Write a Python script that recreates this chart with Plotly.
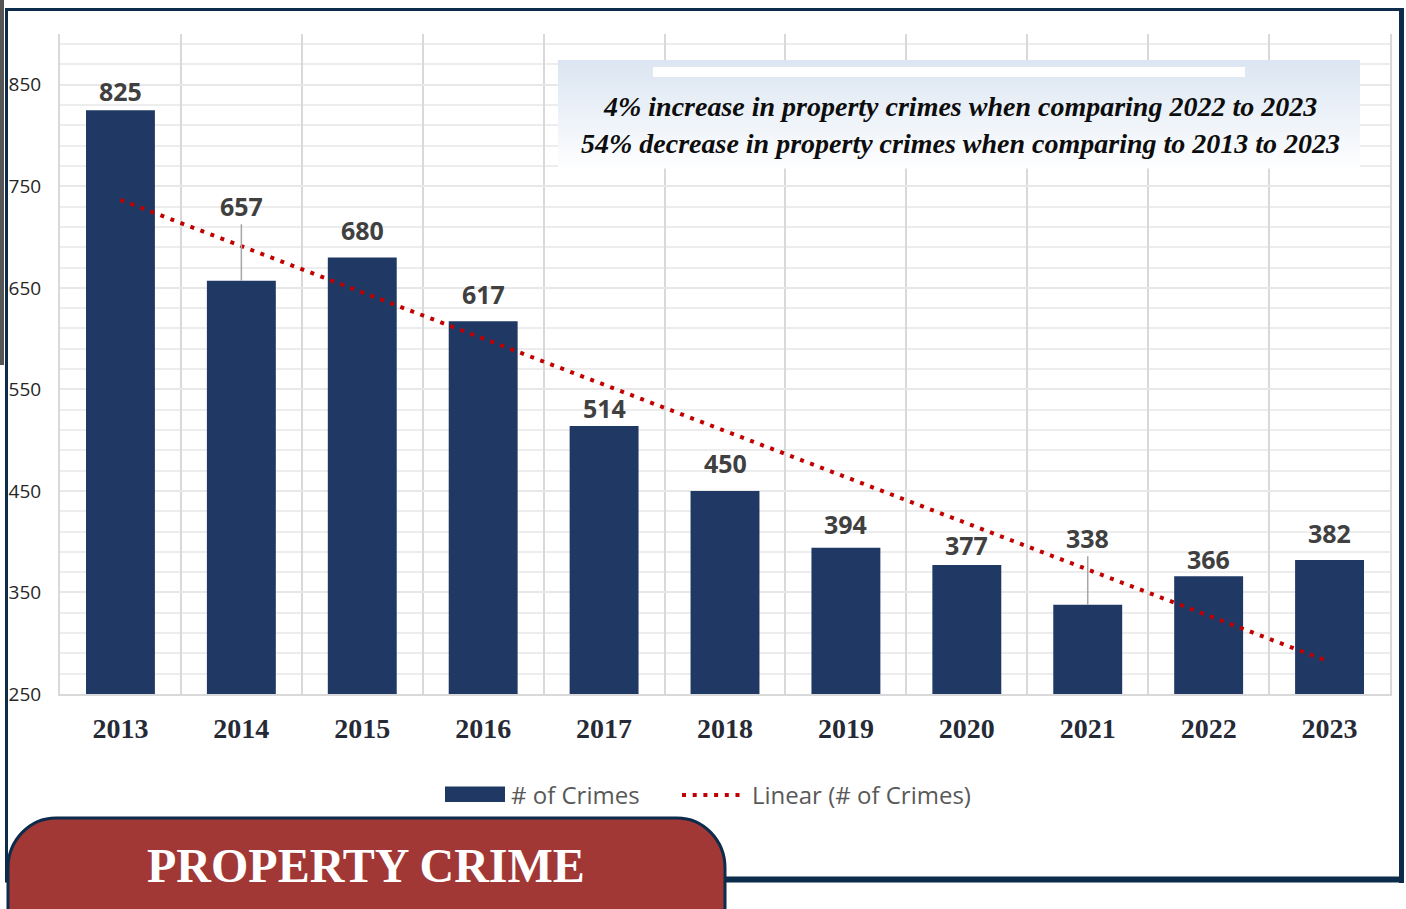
import numpy as np
import plotly.graph_objects as go

# ---------------- data ----------------
years = ["2013", "2014", "2015", "2016", "2017", "2018", "2019", "2020", "2021", "2022", "2023"]
crimes = [825, 657, 680, 617, 514, 450, 394, 377, 338, 366, 382]
y_ticks = [250, 350, 450, 550, 650, 750, 850]
note_lines = [
    "4% increase in property crimes when comparing 2022 to 2023",
    "54% decrease in property crimes when comparing to 2013 to 2023",
]
title_text = "PROPERTY CRIME"
legend_bar = "# of Crimes"
legend_trend = "Linear (# of Crimes)"

# label lift above bar top (px); leader line where flagged
label_lift = [19, 75, 27, 27, 18, 28, 24, 20, 67, 17, 27]
label_leader = [False, True, False, False, False, False, False, False, True, False, False]

# ---------------- style ----------------
W, H = 1406, 909
ML, MR, MT, MB = 60, 16, 34, 215
PW, PH = W - ML - MR, H - MT - MB
NAVY = "#203864"
FRAME = "#0d2b4b"
RED = "#c00000"
BANNER = "#a13835"


def px(x):
    return (x - ML) / PW


def py(y):
    return 1 - (y - MT) / PH


xi = np.arange(len(crimes))
coef = np.polyfit(xi, crimes, 1)
trend = np.polyval(coef, xi)

fig = go.Figure()
fig.add_trace(go.Bar(x=years, y=crimes, marker=dict(color=NAVY, line=dict(width=0)),
                     width=0.57, name=legend_bar, showlegend=False, hoverinfo="skip"))
fig.add_trace(go.Scatter(x=years, y=trend, mode="lines", name=legend_trend, showlegend=False,
                         line=dict(color=RED, width=4, dash="4px,6.7px"), hoverinfo="skip"))

annotations = []
for i, (v, lift, lead) in enumerate(zip(crimes, label_lift, label_leader)):
    common = dict(x=i, y=v, xref="x", yref="y", text=f"<b>{v}</b>", xanchor="center", yanchor="middle",
                  font=dict(family="Open Sans", size=25, color="#404040"))
    if lead:
        annotations.append(dict(showarrow=True, ax=0, ay=-lift, arrowhead=0, arrowwidth=1.5,
                                arrowcolor="#a6a6a6", standoff=0, **common))
    else:
        annotations.append(dict(showarrow=False, yshift=lift, **common))

shapes = []
# note box with vertical gradient
top, bot, x0, x1 = 60, 168, 558, 1360
n = 30
c_top = np.array([0xdc, 0xe6, 0xf2])
c_bot = np.array([0xfd, 0xfe, 0xff])
for i in range(n):
    t = i / (n - 1)
    c = (c_top * (1 - t) + c_bot * t).astype(int)
    ya = top + (bot - top) * i / n
    yb = top + (bot - top) * (i + 1) / n + 0.5
    shapes.append(dict(type="rect", xref="paper", yref="paper", x0=px(x0), x1=px(x1),
                       y0=py(ya), y1=py(yb), fillcolor=f"rgb({c[0]},{c[1]},{c[2]})",
                       line=dict(width=0), layer="above"))
shapes.append(dict(type="rect", xref="paper", yref="paper", x0=px(653), x1=px(1245),
                   y0=py(67), y1=py(77), fillcolor="white", line=dict(width=0), layer="above"))
for txt, yy in zip(note_lines, [106, 144]):
    annotations.append(dict(xref="paper", yref="paper", x=px(960), y=py(yy), xanchor="center", yanchor="middle",
                            text=f"<b><i>{txt}</i></b>", showarrow=False,
                            font=dict(family="Liberation Serif", size=28, color="#0d0d0d")))

# frame
shapes.append(dict(type="rect", xref="paper", yref="paper", x0=px(0), x1=px(4), y0=py(0), y1=py(365),
                   fillcolor="#555555", line=dict(width=0), layer="above"))
shapes.append(dict(type="line", xref="paper", yref="paper", x0=px(6.5), x1=px(6.5), y0=py(8), y1=py(882),
                   line=dict(color=FRAME, width=3), layer="above"))
shapes.append(dict(type="line", xref="paper", yref="paper", x0=px(5), x1=px(1404), y0=py(9.5), y1=py(9.5),
                   line=dict(color=FRAME, width=3), layer="above"))
shapes.append(dict(type="line", xref="paper", yref="paper", x0=px(1401.5), x1=px(1401.5), y0=py(8), y1=py(883),
                   line=dict(color=FRAME, width=5), layer="above"))
shapes.append(dict(type="line", xref="paper", yref="paper", x0=px(5), x1=px(1404), y0=py(879.5), y1=py(879.5),
                   line=dict(color=FRAME, width=6), layer="above"))

# legend
shapes.append(dict(type="rect", xref="paper", yref="paper", x0=px(445), x1=px(505), y0=py(786.5), y1=py(802),
                   fillcolor=NAVY, line=dict(width=0), layer="above"))
shapes.append(dict(type="line", xref="paper", yref="paper", x0=px(682), x1=px(746), y0=py(795), y1=py(795),
                   line=dict(color=RED, width=4, dash="4px,6.7px"), layer="above"))
annotations.append(dict(xref="paper", yref="paper", x=px(509), y=py(794), xanchor="left", yanchor="middle",
                        text=legend_bar, showarrow=False,
                        font=dict(family="Open Sans", size=24, color="#595959")))
annotations.append(dict(xref="paper", yref="paper", x=px(750), y=py(794), xanchor="left", yanchor="middle",
                        text=legend_trend, showarrow=False,
                        font=dict(family="Open Sans", size=24, color="#595959")))

# banner (pill shape)
bx0, bx1, by0, by1, rx, ry = 8, 725, 818, 960, 48, 50
k = 0.5523


def P(x, y):
    return f"{px(x):.5f},{py(y):.5f}"


path = (f"M {P(bx0 + rx, by0)} L {P(bx1 - rx, by0)} "
        f"C {P(bx1 - rx + k * rx, by0)} {P(bx1, by0 + ry - k * ry)} {P(bx1, by0 + ry)} "
        f"L {P(bx1, by1 - ry)} "
        f"C {P(bx1, by1 - ry + k * ry)} {P(bx1 - rx + k * rx, by1)} {P(bx1 - rx, by1)} "
        f"L {P(bx0 + rx, by1)} "
        f"C {P(bx0 + rx - k * rx, by1)} {P(bx0, by1 - ry + k * ry)} {P(bx0, by1 - ry)} "
        f"L {P(bx0, by0 + ry)} "
        f"C {P(bx0, by0 + ry - k * ry)} {P(bx0 + rx - k * rx, by0)} {P(bx0 + rx, by0)} Z")
shapes.append(dict(type="path", xref="paper", yref="paper", path=path, fillcolor=BANNER,
                   line=dict(color=FRAME, width=3), layer="above"))
annotations.append(dict(xref="paper", yref="paper", x=px(366), y=py(866), xanchor="center", yanchor="middle",
                        text=f"<b>{title_text}</b>", showarrow=False,
                        font=dict(family="Liberation Serif", size=48, color="white")))

fig.update_layout(
    width=W, height=H,
    margin=dict(l=ML, r=MR, t=MT, b=MB, autoexpand=False),
    paper_bgcolor="white", plot_bgcolor="white",
    showlegend=False, bargap=0.43,
    shapes=shapes, annotations=annotations,
    xaxis=dict(type="category", range=[-0.5, 10.5], tickson="boundaries", showgrid=True,
               gridcolor="#d9d9d9", gridwidth=2, ticks="", showline=True, linecolor="#d9d9d9",
               linewidth=2, ticklabelstandoff=8,
               tickfont=dict(family="Liberation Serif", size=28, color="#262a36"),
               tickprefix="<b>", ticksuffix="</b>", fixedrange=True),
    yaxis=dict(range=[250, 900], tickvals=y_ticks, showgrid=True, gridcolor="#e8e8e8", gridwidth=2,
               minor=dict(tick0=250, dtick=20, showgrid=True, gridcolor="#ededed", gridwidth=2),
               showline=True, mirror=True, linecolor="#d9d9d9", linewidth=2, zeroline=False,
               ticks="", ticklabelstandoff=13,
               tickfont=dict(family="Open Sans", size=19, color="#262626"), fixedrange=True),
)

fig.write_html("out.html", config={"displayModeBar": False},
               post_script="document.body.style.margin='0';document.body.style.overflow='hidden';")
